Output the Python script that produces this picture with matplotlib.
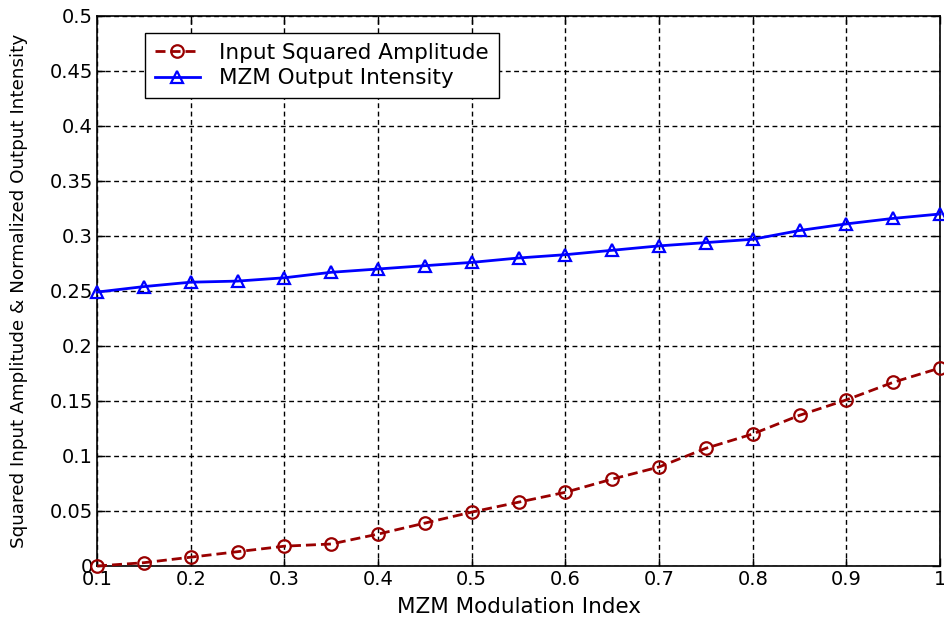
import matplotlib
matplotlib.use("Agg")
import matplotlib.pyplot as plt

x = [0.1, 0.15, 0.2, 0.25, 0.3, 0.35, 0.4, 0.45, 0.5, 0.55, 0.6, 0.65, 0.7,
     0.75, 0.8, 0.85, 0.9, 0.95, 1.0]
input_sq = [0.0, 0.003, 0.008, 0.013, 0.018, 0.02, 0.029, 0.039, 0.049, 0.058,
            0.067, 0.079, 0.09, 0.107, 0.12, 0.137, 0.151, 0.167, 0.18]
mzm_out = [0.249, 0.254, 0.258, 0.259, 0.262, 0.267, 0.270, 0.273, 0.276, 0.280,
           0.283, 0.287, 0.291, 0.294, 0.297, 0.305, 0.311, 0.316, 0.320]
xticks = [0.1, 0.2, 0.3, 0.4, 0.5, 0.6, 0.7, 0.8, 0.9, 1.0]
xticklabels = ["0.1", "0.2", "0.3", "0.4", "0.5", "0.6", "0.7", "0.8", "0.9", "1"]
yticks = [0, 0.05, 0.1, 0.15, 0.2, 0.25, 0.3, 0.35, 0.4, 0.45, 0.5]
yticklabels = ["0", "0.05", "0.1", "0.15", "0.2", "0.25", "0.3", "0.35", "0.4", "0.45", "0.5"]

plt.rcParams['font.family'] = ['DejaVu Sans']

fig = plt.figure(figsize=(9.44, 6.27), dpi=100)
ax = fig.add_axes([0.1028, 0.0973, 0.8930, 0.8772])

ax.plot(x, input_sq, color='#990000', linestyle=(0, (3.6, 1.8)), linewidth=2.0,
        marker='o', markersize=9, markerfacecolor='none', markeredgewidth=1.6,
        label='Input Squared Amplitude', clip_on=False, zorder=3)
ax.plot(x, mzm_out, color='#0000FF', linestyle='-', linewidth=2.0,
        marker='^', markersize=9, markerfacecolor='none', markeredgewidth=1.6,
        label='MZM Output Intensity', clip_on=False, zorder=3)

ax.set_xlim(0.1, 1.0)
ax.set_ylim(0, 0.5)
ax.set_xticks(xticks)
ax.set_xticklabels(xticklabels)
ax.set_yticks(yticks)
ax.set_yticklabels(yticklabels)
ax.tick_params(direction='in', top=True, right=True, labelsize=14, length=6, width=1, pad=3)
ax.grid(True, color='black', linestyle=(0, (3.5, 2.5)), linewidth=1.0)
for s in ax.spines.values():
    s.set_linewidth(1.2)

ax.set_xlabel('MZM Modulation Index', fontsize=15.5, va='center')
ax.xaxis.set_label_coords(0.5, -0.075)
ax.set_ylabel('Squared Input Amplitude & Normalized Output Intensity', fontsize=13.2, va='center')
ax.yaxis.set_label_coords(-0.092, 0.5)

leg = ax.legend(loc='upper left', bbox_to_anchor=(0.057, 0.969), fontsize=15.5,
                frameon=True, fancybox=False, edgecolor='black', framealpha=1,
                borderaxespad=0, handlelength=2.1, borderpad=0.45, labelspacing=0.25,
                handletextpad=0.9)
leg.get_frame().set_linewidth(1.0)

fig.savefig('out.png', dpi=100)
